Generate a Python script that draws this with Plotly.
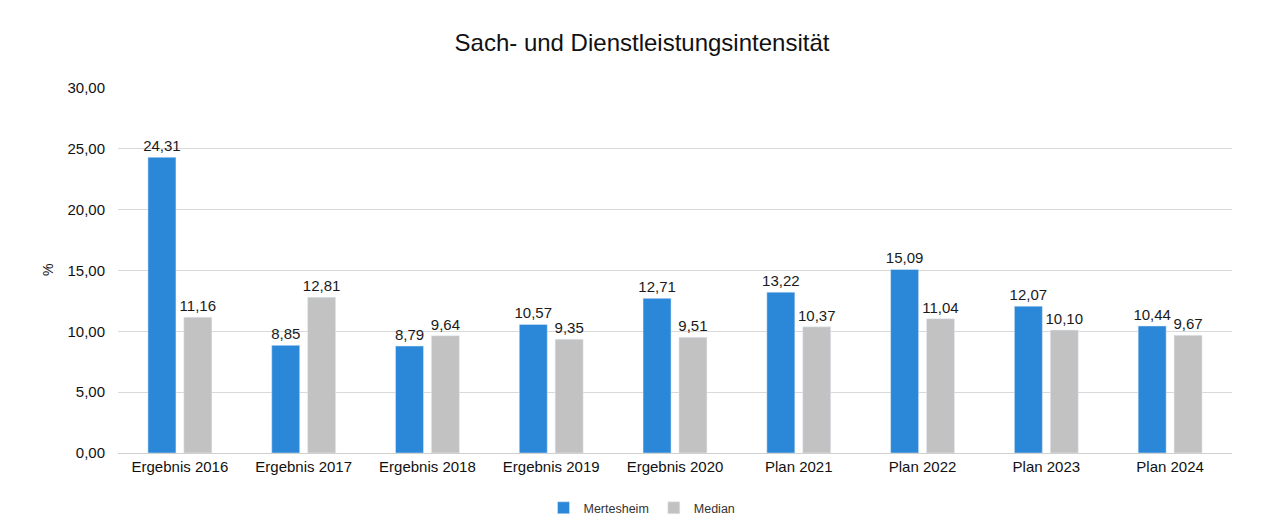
import plotly.graph_objects as go

categories = ["Ergebnis 2016", "Ergebnis 2017", "Ergebnis 2018", "Ergebnis 2019", "Ergebnis 2020",
              "Plan 2021", "Plan 2022", "Plan 2023", "Plan 2024"]
mertesheim = [24.31, 8.85, 8.79, 10.57, 12.71, 13.22, 15.09, 12.07, 10.44]
median = [11.16, 12.81, 9.64, 9.35, 9.51, 10.37, 11.04, 10.10, 9.67]
y_ticks = [0, 5, 10, 15, 20, 25, 30]

L, R, T, B = 110, 44, 80, 87
W, H = 1268, 532
PW, PH = W - L - R, H - T - B

fig = go.Figure()
for name, vals, col in [("Mertesheim", mertesheim, "#2b87d8"), ("Median", median, "#c2c2c2")]:
    fig.add_trace(go.Bar(x=categories, y=vals, name=name, marker_color=col,
                         texttemplate="%{y:.2f}", textposition="outside", constraintext="none",
                         textfont=dict(size=15, color="#1a1a1a"), cliponaxis=False))

fig.add_annotation(text="%", textangle=-90, xref="paper", yref="paper",
                   x=(40 - L) / PW, y=(445 - 262) / PH, showarrow=False,
                   font=dict(size=14, color="#111"), xanchor="center", yanchor="middle")

fig.update_layout(
    width=W, height=H,
    separators=",.",
    paper_bgcolor="white", plot_bgcolor="white",
    font=dict(family="Liberation Sans, Arial, sans-serif", color="#222"),
    title=dict(text="Sach- und Dienstleistungsintensität", x=0.5, xanchor="center",
               y=0.935, yanchor="middle", font=dict(size=24, color="#111")),
    margin=dict(l=L, r=R, t=T, b=B, autoexpand=False),
    barmode="group", bargap=0.42, bargroupgap=0.22,
    showlegend=True,
    legend=dict(orientation="h", xref="container", x=0.5, xanchor="center", y=-0.11, yanchor="top",
                font=dict(size=12.5, color="#333"), itemwidth=30),
    xaxis=dict(tickfont=dict(size=15, color="#111"), showline=True, linecolor="#d0d0d0", ticks="",
               automargin=False),
    yaxis=dict(range=[0, 30], tickvals=y_ticks, tickformat=".2f", showgrid=True, gridcolor="#d9d9d9",
               zeroline=False, tickfont=dict(size=15, color="#111"), ticks="", automargin=False,
               ticklabelstandoff=12),
)

fig.write_html("out.html")
